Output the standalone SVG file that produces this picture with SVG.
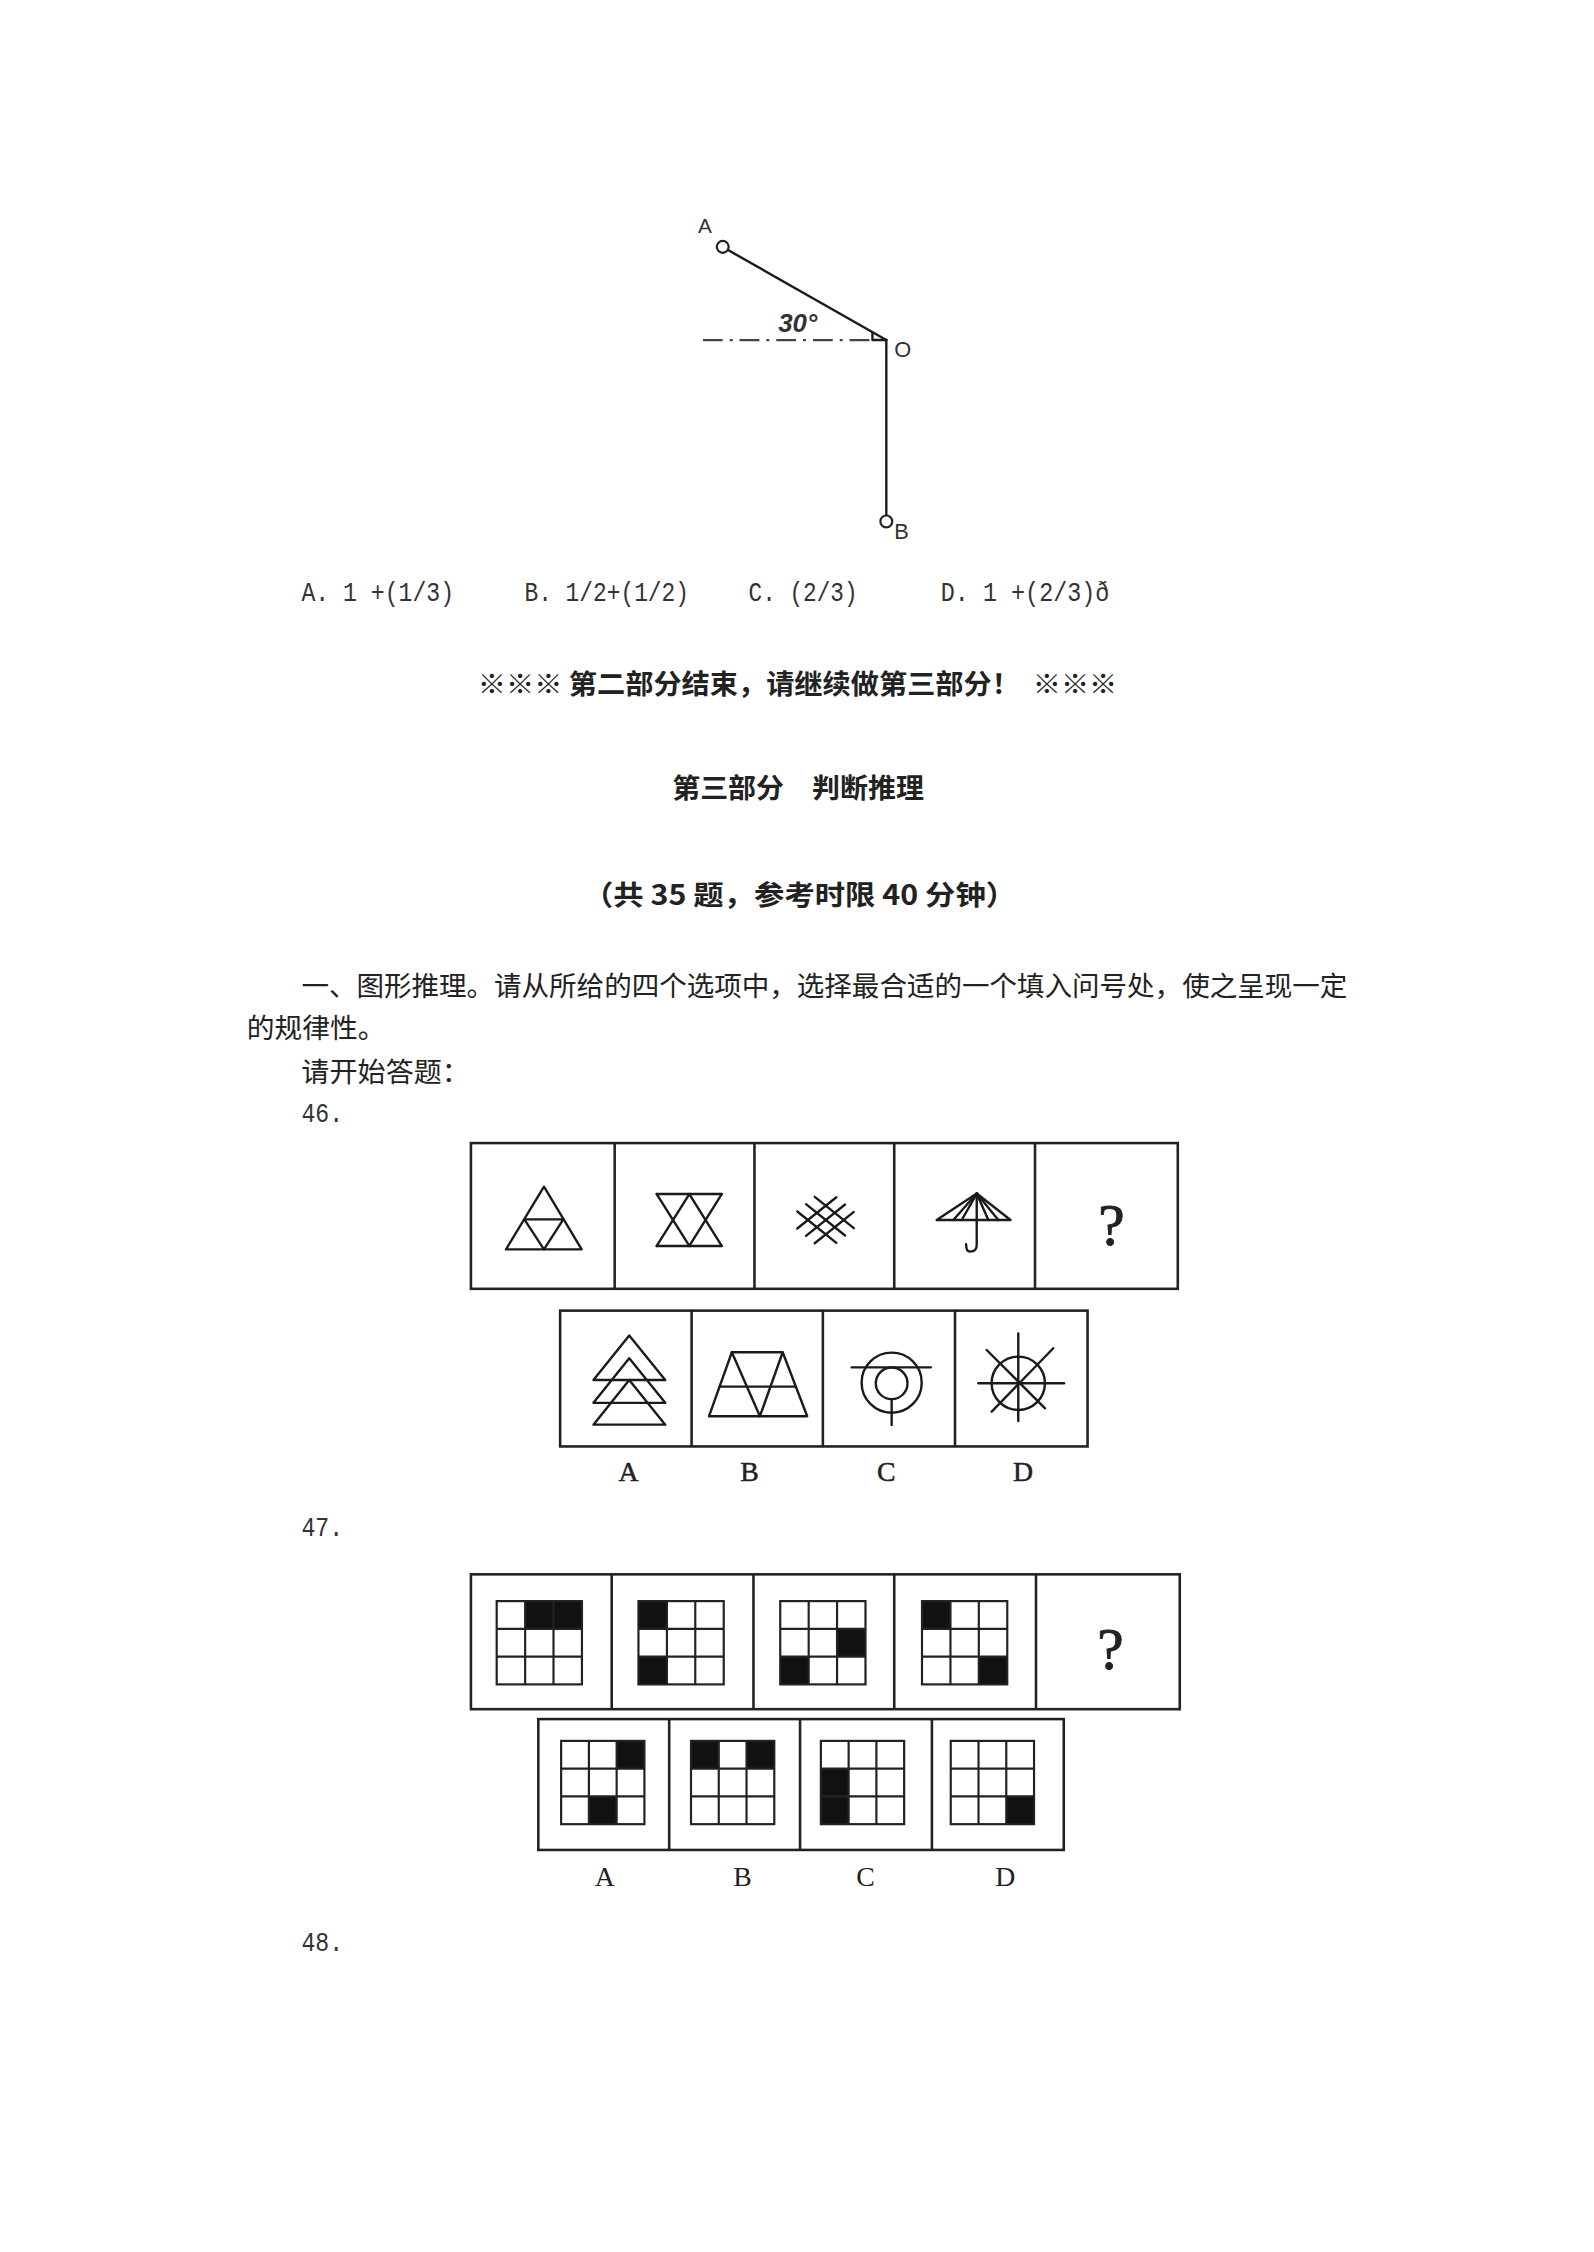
<svg xmlns="http://www.w3.org/2000/svg" width="1594" height="2252" viewBox="0 0 1594 2252">
<style>
.ln{stroke:#1a1a1a;stroke-width:2.4;fill:none;stroke-linecap:round;stroke-linejoin:round}
.fr{stroke:#222;stroke-width:2.6;fill:none}
.gd{stroke:#222;stroke-width:2.2;fill:none}
.blk{fill:#111}
.cjk{font-family:"Noto Sans CJK SC","Noto Sans CJK JP",sans-serif;fill:#222}
.mono{font-family:"Liberation Mono",monospace;fill:#333;font-size:27px}
.serif{font-family:"Liberation Serif",serif;fill:#222}
.lbl{font-family:"Liberation Sans",sans-serif;fill:#333}
.qm{font-family:"Liberation Serif",serif;fill:#222;font-size:60px;stroke:#222;stroke-width:1;text-anchor:middle}
</style>
<rect width="1594" height="2252" fill="#ffffff"/>
<g id="page" transform="matrix(0.9914 0 0 0.9914 0 0)">

<g id="q45-figure">
  <line x1="709" y1="343" x2="880" y2="343" stroke="#444" stroke-width="2.2" stroke-dasharray="20 7 3 7"/>
  <line class="ln" x1="734" y1="252" x2="894" y2="343"/>
  <line class="ln" x1="894" y1="343" x2="894" y2="520"/>
  <polyline class="ln" stroke-width="1.8" points="880,335 880,343 894,343"/>
  <circle cx="729" cy="249" r="6" fill="#fff" stroke="#222" stroke-width="2.2"/>
  <circle cx="894" cy="526" r="6" fill="#fff" stroke="#222" stroke-width="2.2"/>
  <text class="lbl" x="704" y="235" font-size="21">A</text>
  <text class="lbl" x="902" y="360" font-size="22">O</text>
  <text class="lbl" x="902" y="544" font-size="22">B</text>
  <text class="lbl" x="785" y="335" font-size="26" font-style="italic" font-weight="bold" fill="#333">30°</text>
</g>

<g id="q45-options">
  <text class="mono" x="304" y="606" textLength="154" lengthAdjust="spacingAndGlyphs" xml:space="preserve">A. 1 +(1/3)</text>
  <text class="mono" x="529" y="606" textLength="166" lengthAdjust="spacingAndGlyphs" xml:space="preserve">B. 1/2+(1/2)</text>
  <text class="mono" x="755" y="606" textLength="110" lengthAdjust="spacingAndGlyphs" xml:space="preserve">C. (2/3)</text>
  <text class="mono" x="949" y="606" textLength="170" lengthAdjust="spacingAndGlyphs" xml:space="preserve">D. 1 +(2/3)ð</text>
</g>

<g id="part2-end">
  <text class="cjk" x="482" y="700" font-size="28" font-weight="bold" textLength="645" lengthAdjust="spacingAndGlyphs" xml:space="preserve">※※※ 第二部分结束，请继续做第三部分！  ※※※</text>
</g>

<g id="part3-title">
  <text class="cjk" x="678" y="805" font-size="28" font-weight="bold" textLength="254" lengthAdjust="spacingAndGlyphs">第三部分　判断推理</text>
  <text class="cjk" x="588" y="913" font-size="28" font-weight="bold" textLength="437" lengthAdjust="spacingAndGlyphs" xml:space="preserve">（共 35 题，参考时限 40 分钟）</text>
</g>

<g id="instructions">
  <text class="cjk" x="304" y="1005" font-size="28" textLength="1055" lengthAdjust="spacingAndGlyphs">一、图形推理。请从所给的四个选项中，选择最合适的一个填入问号处，使之呈现一定</text>
  <text class="cjk" x="249" y="1047" font-size="28" textLength="140" lengthAdjust="spacingAndGlyphs">的规律性。</text>
  <text class="cjk" x="304" y="1091" font-size="28" textLength="170" lengthAdjust="spacingAndGlyphs">请开始答题：</text>
  <text class="mono" x="304" y="1132" textLength="42" lengthAdjust="spacingAndGlyphs">46.</text>
</g>

<g id="q46-sequence">
  <rect class="fr" x="475" y="1153" width="713" height="147"/>
  <line class="fr" x1="620" y1="1153" x2="620" y2="1300"/>
  <line class="fr" x1="761" y1="1153" x2="761" y2="1300"/>
  <line class="fr" x1="902" y1="1153" x2="902" y2="1300"/>
  <line class="fr" x1="1044" y1="1153" x2="1044" y2="1300"/>
  <!-- cell 1 -->
  <polygon class="ln" points="548.7,1197 510.4,1260.2 586.7,1260.2"/>
  <polygon class="ln" points="528.9,1229.9 568.2,1229.9 548.7,1260.2"/>
  <!-- cell 2 -->
  <line class="ln" x1="662.4" y1="1204.4" x2="728" y2="1204.4"/>
  <line class="ln" x1="662.4" y1="1256.8" x2="728" y2="1256.8"/>
  <line class="ln" x1="662.4" y1="1204.4" x2="695.3" y2="1256.8"/>
  <line class="ln" x1="728" y1="1204.4" x2="695.3" y2="1256.8"/>
  <line class="ln" x1="662.4" y1="1256.8" x2="695.3" y2="1204.4"/>
  <line class="ln" x1="728" y1="1256.8" x2="695.3" y2="1204.4"/>
  <!-- cell 3 -->
  <g class="ln" stroke-width="2.2">
    <line x1="804.2" y1="1222" x2="843.6" y2="1253.6"/>
    <line x1="813" y1="1214.6" x2="852.4" y2="1246.2"/>
    <line x1="821.8" y1="1207.2" x2="861.2" y2="1238.8"/>
    <line x1="804.2" y1="1239.2" x2="843.6" y2="1207.6"/>
    <line x1="813" y1="1246.6" x2="852.4" y2="1215"/>
    <line x1="821.8" y1="1254" x2="861.2" y2="1222.4"/>
  </g>
  <!-- cell 4 umbrella -->
  <polygon class="ln" points="985.2,1203.9 944.8,1230.6 1019.3,1230.6"/>
  <g class="ln" stroke-width="1.8">
    <line x1="985.2" y1="1203.9" x2="961.6" y2="1230.6"/>
    <line x1="985.2" y1="1203.9" x2="970.1" y2="1230.6"/>
    <line x1="985.2" y1="1203.9" x2="996.9" y2="1230.6"/>
    <line x1="985.2" y1="1203.9" x2="1007" y2="1230.6"/>
  </g>
  <path class="ln" d="M985.2 1203.9 V1255 Q985.5 1262.5 978.5 1262.5 Q974.5 1262.5 974.5 1255"/>
  <text class="qm" x="1121" y="1256">?</text>
</g>

<g id="q46-options">
  <rect class="fr" x="565" y="1322" width="532" height="137"/>
  <line class="fr" x1="697.6" y1="1322" x2="697.6" y2="1459"/>
  <line class="fr" x1="830" y1="1322" x2="830" y2="1459"/>
  <line class="fr" x1="963.3" y1="1322" x2="963.3" y2="1459"/>
  <!-- A -->
  <polygon class="ln" points="634.7,1347 598.6,1392 671,1392"/>
  <polygon class="ln" points="634.7,1370 598.6,1415 671,1415"/>
  <polygon class="ln" points="634.7,1392 598.6,1437 671,1437"/>
  <!-- B -->
  <polygon class="ln" points="738.2,1364 789.5,1364 814.2,1428.5 715.2,1428.5"/>
  <line class="ln" x1="725.9" y1="1398.7" x2="802.8" y2="1398.7"/>
  <polyline class="ln" points="738.2,1364 766.5,1428.5 789.5,1364"/>
  <!-- C -->
  <circle class="ln" cx="899.4" cy="1394.7" r="30.3"/>
  <circle class="ln" cx="899.4" cy="1395.3" r="16"/>
  <line class="ln" x1="859.1" y1="1379.2" x2="938.8" y2="1379.2"/>
  <line class="ln" x1="899.4" y1="1411.3" x2="899.4" y2="1437.4"/>
  <!-- D -->
  <circle class="ln" cx="1027.1" cy="1395.3" r="26.9"/>
  <line class="ln" x1="986.8" y1="1395.3" x2="1073.3" y2="1395.3"/>
  <line class="ln" x1="1027.1" y1="1344.9" x2="1027.1" y2="1433.4"/>
  <line class="ln" x1="995.2" y1="1361.7" x2="1054.1" y2="1420.5"/>
  <line class="ln" x1="1062.4" y1="1359.9" x2="1000.3" y2="1423.9"/>
  <g class="serif" font-size="28" text-anchor="middle" stroke="#222" stroke-width="0.5">
    <text x="634" y="1494">A</text>
    <text x="756" y="1494">B</text>
    <text x="894" y="1494">C</text>
    <text x="1032" y="1494">D</text>
  </g>
</g>

<g id="q47-label">
  <text class="mono" x="304" y="1549" textLength="42" lengthAdjust="spacingAndGlyphs">47.</text>
</g>

<g id="q47-sequence">
  <rect class="fr" x="475" y="1588" width="715" height="136"/>
  <line class="fr" x1="617" y1="1588" x2="617" y2="1724"/>
  <line class="fr" x1="760" y1="1588" x2="760" y2="1724"/>
  <line class="fr" x1="902" y1="1588" x2="902" y2="1724"/>
  <line class="fr" x1="1045" y1="1588" x2="1045" y2="1724"/>
  <!-- grid 1 -->
  <rect class="blk" x="529.7" y="1615" width="57.3" height="28"/>
  <g class="gd"><rect x="501" y="1615" width="86" height="84"/><line x1="529.7" y1="1615" x2="529.7" y2="1699"/><line x1="558.3" y1="1615" x2="558.3" y2="1699"/><line x1="501" y1="1643" x2="587" y2="1643"/><line x1="501" y1="1671" x2="587" y2="1671"/></g>
  <!-- grid 2 -->
  <rect class="blk" x="644" y="1615" width="28.7" height="28"/>
  <rect class="blk" x="644" y="1671" width="28.7" height="28"/>
  <g class="gd"><rect x="644" y="1615" width="86" height="84"/><line x1="672.7" y1="1615" x2="672.7" y2="1699"/><line x1="701.3" y1="1615" x2="701.3" y2="1699"/><line x1="644" y1="1643" x2="730" y2="1643"/><line x1="644" y1="1671" x2="730" y2="1671"/></g>
  <!-- grid 3 -->
  <rect class="blk" x="844.3" y="1643" width="28.7" height="28"/>
  <rect class="blk" x="787" y="1671" width="28.7" height="28"/>
  <g class="gd"><rect x="787" y="1615" width="86" height="84"/><line x1="815.7" y1="1615" x2="815.7" y2="1699"/><line x1="844.3" y1="1615" x2="844.3" y2="1699"/><line x1="787" y1="1643" x2="873" y2="1643"/><line x1="787" y1="1671" x2="873" y2="1671"/></g>
  <!-- grid 4 -->
  <rect class="blk" x="930" y="1615" width="28.7" height="28"/>
  <rect class="blk" x="987.3" y="1671" width="28.7" height="28"/>
  <g class="gd"><rect x="930" y="1615" width="86" height="84"/><line x1="958.7" y1="1615" x2="958.7" y2="1699"/><line x1="987.3" y1="1615" x2="987.3" y2="1699"/><line x1="930" y1="1643" x2="1016" y2="1643"/><line x1="930" y1="1671" x2="1016" y2="1671"/></g>
  <text class="qm" x="1120" y="1683">?</text>
</g>

<g id="q47-options">
  <rect class="fr" x="543" y="1734" width="530" height="132"/>
  <line class="fr" x1="675" y1="1734" x2="675" y2="1866"/>
  <line class="fr" x1="807" y1="1734" x2="807" y2="1866"/>
  <line class="fr" x1="940" y1="1734" x2="940" y2="1866"/>
  <!-- A -->
  <rect class="blk" x="622" y="1756" width="28" height="28"/>
  <rect class="blk" x="594" y="1812" width="28" height="28"/>
  <g class="gd"><rect x="566" y="1756" width="84" height="84"/><line x1="594" y1="1756" x2="594" y2="1840"/><line x1="622" y1="1756" x2="622" y2="1840"/><line x1="566" y1="1784" x2="650" y2="1784"/><line x1="566" y1="1812" x2="650" y2="1812"/></g>
  <!-- B -->
  <rect class="blk" x="697" y="1756" width="28" height="28"/>
  <rect class="blk" x="753" y="1756" width="28" height="28"/>
  <g class="gd"><rect x="697" y="1756" width="84" height="84"/><line x1="725" y1="1756" x2="725" y2="1840"/><line x1="753" y1="1756" x2="753" y2="1840"/><line x1="697" y1="1784" x2="781" y2="1784"/><line x1="697" y1="1812" x2="781" y2="1812"/></g>
  <!-- C -->
  <rect class="blk" x="828" y="1784" width="28" height="56"/>
  <g class="gd"><rect x="828" y="1756" width="84" height="84"/><line x1="856" y1="1756" x2="856" y2="1840"/><line x1="884" y1="1756" x2="884" y2="1840"/><line x1="828" y1="1784" x2="912" y2="1784"/><line x1="828" y1="1812" x2="912" y2="1812"/></g>
  <!-- D -->
  <rect class="blk" x="1015" y="1812" width="28" height="28"/>
  <g class="gd"><rect x="959" y="1756" width="84" height="84"/><line x1="987" y1="1756" x2="987" y2="1840"/><line x1="1015" y1="1756" x2="1015" y2="1840"/><line x1="959" y1="1784" x2="1043" y2="1784"/><line x1="959" y1="1812" x2="1043" y2="1812"/></g>
  <g class="serif" font-size="28" text-anchor="middle">
    <text x="610" y="1902">A</text>
    <text x="749" y="1902">B</text>
    <text x="873" y="1902">C</text>
    <text x="1014" y="1902">D</text>
  </g>
</g>

<g id="q48-label">
  <text class="mono" x="304" y="1968" textLength="42" lengthAdjust="spacingAndGlyphs">48.</text>
</g>
</g>
</svg>
